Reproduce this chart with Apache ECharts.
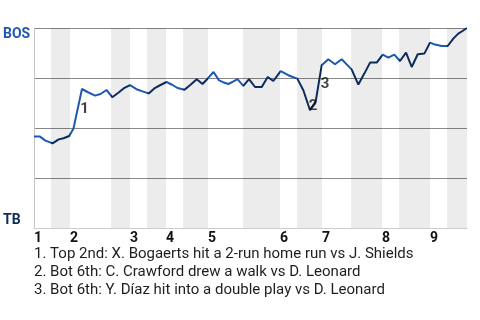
<!DOCTYPE html>
<html>
<head>
<meta charset="utf-8">
<script src="https://cdn.jsdelivr.net/npm/echarts@6/dist/echarts.min.js"></script>
<style>
html,body{margin:0;padding:0;background:#fff;}
#chart{width:480px;height:320px;}
</style>
</head>
<body>
<div id="chart"></div>
<script>
// ---- data ----
const inningLabels = ['1','2','3','4','5','6','7','8','9'];
// half-inning boundaries on the game-progress axis (top1, bot1, top2, ...)
const halfBounds = [0, 2.91, 6.15, 13.16, 16.41, 19.31, 22.56, 25.47, 29.74, 35.72, 42.04, 44.95, 49.22, 54.18, 59.48, 62.38, 67.68, 70.59, 74];
// win probability path (progress, BOS win %)
const wpX = [0, 1.03, 1.88, 3.16, 4.22, 5.04, 6.02, 6.75, 8.20, 9.14, 10.43, 11.37, 12.39, 13.38, 14.36, 15.47, 16.41,
  17.52, 18.54, 19.60, 20.56, 21.62, 22.65, 23.67, 24.53, 25.72, 26.75, 27.81, 28.80, 29.74, 30.68, 31.62, 32.30,
  33.21, 34.01, 34.78, 35.77, 36.75, 37.77, 38.92, 39.94, 40.90, 42.16, 42.81, 43.46, 44.23, 45.00, 46.03, 47.17,
  48.15, 49.17, 50.30, 51.44, 52.59, 53.44, 54.30, 55.43, 56.45, 57.43, 58.57, 59.60, 60.55, 61.58, 62.55, 63.58,
  64.55, 65.58, 66.71, 67.68, 68.53, 69.68, 70.70, 71.66, 72.51, 73.23, 74];
const wpY = [45.7, 45.7, 43.8, 42.3, 44.3, 44.9, 46.0, 49.8, 69.5, 68.0, 66.2, 67.0, 69.0, 65.4, 67.5, 70.1, 71.4,
  69.4, 68.3, 67.3, 69.8, 71.5, 73.0, 71.5, 70.0, 69.1, 71.6, 74.4, 72.0, 74.9, 78.0, 73.8, 72.9,
  72.0, 73.2, 74.4, 71.1, 74.4, 70.5, 70.5, 75.5, 73.5, 78.4, 77.4, 76.4, 75.5, 74.7, 68.9, 58.9,
  63.4, 81.4, 84.4, 81.9, 84.4, 81.8, 79.2, 71.7, 77.2, 82.7, 82.7, 86.7, 85.2, 86.7, 83.5, 87.7,
  80.5, 86.9, 87.2, 92.7, 91.7, 91.0, 91.0, 94.7, 97.2, 98.5, 100];
// annotation markers
const markNums = ['1', '2', '3'];
const markX = [8.63, 47.68, 49.73];
const markY = [59.3, 61.0, 71.8];
const notes = [
  '1. Top 2nd: X. Bogaerts hit a 2-run home run vs J. Shields',
  '2. Bot 6th: C. Crawford drew a walk vs D. Leonard',
  '3. Bot 6th: Y. Díaz hit into a double play vs D. Leonard'
];
const teamTop = 'BOS';
const teamBottom = 'TB';

// ---- styling ----
const blue = '#1d58b0';
const navy = '#0c2a5a';
const FONT = 'Roboto, "Noto Sans", sans-serif';

const inningStarts = inningLabels.map((_, i) => halfBounds[2 * i]);
const bands = [];
for (let i = 1; i + 1 < halfBounds.length; i += 2) {
  bands.push([{ xAxis: halfBounds[i] }, { xAxis: halfBounds[i + 1] }]);
}
const pieces = [];
for (let i = 0; i + 1 < halfBounds.length; i++) {
  const p = { gte: halfBounds[i], color: i % 2 === 0 ? blue : navy };
  if (i + 2 < halfBounds.length) p.lt = halfBounds[i + 1]; else p.lte = halfBounds[i + 1];
  pieces.push(p);
}

const chart = echarts.init(document.getElementById('chart'), null, { renderer: 'canvas' });
chart.setOption({
  animation: false,
  backgroundColor: '#fff',
  title: {
    text: notes.join('\n'),
    left: 34, top: 245, padding: 0,
    textStyle: { fontFamily: FONT, fontSize: 15, fontWeight: 'normal', color: '#1e1e1e', lineHeight: 18 }
  },
  grid: { left: 34, right: 13, top: 28, bottom: 92 },
  visualMap: { type: 'piecewise', show: false, dimension: 0, seriesIndex: 0, pieces: pieces },
  xAxis: {
    type: 'value', min: 0, max: 74,
    axisLine: { show: true, lineStyle: { color: '#cccccc', width: 1 } },
    axisTick: { show: false },
    splitLine: { show: false },
    axisLabel: {
      customValues: inningStarts,
      formatter: v => inningLabels[inningStarts.indexOf(v)] || '',
      align: 'left', margin: 3,
      fontFamily: FONT, fontSize: 14, fontWeight: 'bold', color: '#111',
      showMinLabel: true, showMaxLabel: true, hideOverlap: false
    }
  },
  yAxis: {
    type: 'value', min: 0, max: 100, interval: 25,
    axisLine: { show: true, lineStyle: { color: '#c4c4c4', width: 1 } },
    axisTick: { show: false },
    splitLine: { show: true, lineStyle: { color: ['#cccccc', '#888888', '#888888', '#888888', '#888888'], width: 1 } },
    axisLabel: {
      customValues: [0, 100],
      formatter: v => v === 100 ? '{t|' + teamTop + '}' : (v === 0 ? '{b|' + teamBottom + '}' : ''),
      align: 'left', margin: 31,
      showMinLabel: true, showMaxLabel: true,
      rich: {
        t: { fontFamily: FONT, fontSize: 14, fontWeight: 'bold', color: blue, padding: [13, 0, 0, 0] },
        b: { fontFamily: FONT, fontSize: 14, fontWeight: 'bold', color: navy, padding: [0, 0, 16, 0] }
      }
    }
  },
  series: [
    {
      type: 'line',
      data: wpX.map((x, i) => [x, wpY[i]]),
      showSymbol: false,
      lineStyle: { width: 2 },
      z: 3,
      markArea: {
        silent: true,
        itemStyle: { color: 'rgba(0,0,0,0.075)' },
        data: bands
      }
    },
    {
      type: 'scatter',
      data: markX.map((x, i) => [x, markY[i]]),
      symbolSize: 1,
      itemStyle: { color: 'rgba(0,0,0,0)' },
      z: 5,
      label: {
        show: true, position: 'inside',
        formatter: p => markNums[p.dataIndex],
        fontFamily: FONT, fontSize: 15, fontWeight: 'bold', color: '#111'
      }
    }
  ]
});
</script>
</body>
</html>
